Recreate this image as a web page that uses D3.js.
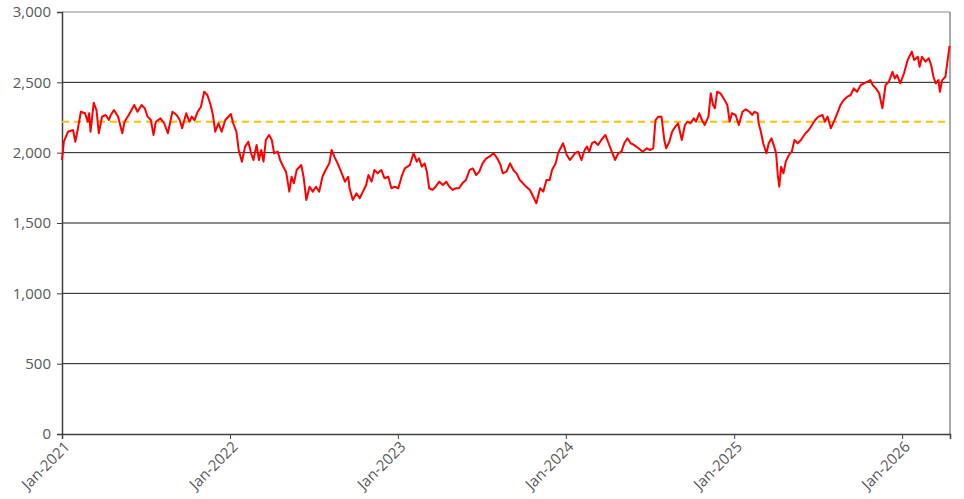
<!DOCTYPE html>
<html lang="en">
<head>
    <meta charset="UTF-8">
    <title>Index line chart</title>
    <script src="https://d3js.org/d3.v7.min.js"></script>
    <style>
        body { margin: 0; background: #fff; }
        text { font-family: "Open Sans", sans-serif; fill: #595959; }
    </style>
</head>
<body>
    <svg width="964" height="499"></svg>
    <script>
        const dates = [
            "2021-01-01","2021-01-05","2021-01-14","2021-01-25","2021-01-30","2021-02-04","2021-02-11","2021-02-20","2021-02-26","2021-03-01",
            "2021-03-04","2021-03-11","2021-03-17","2021-03-22","2021-03-29","2021-04-06","2021-04-13","2021-04-17","2021-04-24","2021-05-03",
            "2021-05-12","2021-05-17","2021-05-26","2021-06-07","2021-06-14","2021-06-23","2021-06-30","2021-07-06","2021-07-13","2021-07-19",
            "2021-07-24","2021-08-03","2021-08-11","2021-08-19","2021-08-29","2021-09-07","2021-09-14","2021-09-19","2021-09-28","2021-10-05",
            "2021-10-10","2021-10-16","2021-10-23","2021-10-30","2021-11-06","2021-11-13","2021-11-20","2021-11-25","2021-11-30","2021-12-07",
            "2021-12-14","2021-12-22","2022-01-03","2022-01-08","2022-01-15","2022-01-20","2022-01-27","2022-02-03","2022-02-10","2022-02-16",
            "2022-02-21","2022-02-28","2022-03-05","2022-03-10","2022-03-15","2022-03-20","2022-03-27","2022-04-02","2022-04-07","2022-04-15",
            "2022-04-20","2022-04-27","2022-05-03","2022-05-10","2022-05-15","2022-05-20","2022-05-26","2022-06-05","2022-06-10","2022-06-16",
            "2022-06-23","2022-06-30","2022-07-07","2022-07-14","2022-07-21","2022-07-28","2022-08-05","2022-08-10","2022-08-16","2022-08-23",
            "2022-09-01","2022-09-08","2022-09-15","2022-09-18","2022-09-25","2022-10-03","2022-10-10","2022-10-17","2022-10-24","2022-10-29",
            "2022-11-05","2022-11-11","2022-11-18","2022-11-26","2022-12-03","2022-12-11","2022-12-18","2022-12-25","2023-01-02","2023-01-09",
            "2023-01-16","2023-01-27","2023-02-04","2023-02-11","2023-02-16","2023-02-22","2023-02-28","2023-03-05","2023-03-10","2023-03-17",
            "2023-03-24","2023-04-01","2023-04-09","2023-04-16","2023-04-23","2023-04-30","2023-05-07","2023-05-14","2023-05-21","2023-05-29",
            "2023-06-06","2023-06-13","2023-06-20","2023-06-27","2023-07-04","2023-07-12","2023-07-19","2023-07-28","2023-08-05","2023-08-12",
            "2023-08-17","2023-08-25","2023-09-02","2023-09-09","2023-09-16","2023-09-23","2023-09-30","2023-10-07","2023-10-15","2023-10-22",
            "2023-10-29","2023-11-06","2023-11-13","2023-11-20","2023-11-27","2023-12-02","2023-12-10","2023-12-15","2023-12-26","2024-01-03",
            "2024-01-10","2024-01-21","2024-01-28","2024-02-04","2024-02-11","2024-02-16","2024-02-21","2024-02-27","2024-03-04","2024-03-11",
            "2024-03-18","2024-03-27","2024-04-03","2024-04-10","2024-04-17","2024-04-24","2024-05-01","2024-05-07","2024-05-14","2024-05-21",
            "2024-05-28","2024-06-07","2024-06-16","2024-06-25","2024-07-02","2024-07-09","2024-07-14","2024-07-20","2024-07-27","2024-08-02",
            "2024-08-06","2024-08-13","2024-08-19","2024-08-26","2024-09-01","2024-09-09","2024-09-16","2024-09-21","2024-09-28","2024-10-05",
            "2024-10-10","2024-10-17","2024-10-23","2024-10-29","2024-11-06","2024-11-11","2024-11-16","2024-11-20","2024-11-25","2024-12-02",
            "2024-12-09","2024-12-17","2024-12-22","2024-12-27","2025-01-04","2025-01-11","2025-01-19","2025-01-26","2025-02-03","2025-02-09",
            "2025-02-14","2025-02-21","2025-02-23","2025-02-28","2025-03-05","2025-03-12","2025-03-17","2025-03-23","2025-03-29","2025-04-02",
            "2025-04-06","2025-04-09","2025-04-13","2025-04-18","2025-04-23","2025-04-30","2025-05-06","2025-05-12","2025-05-19","2025-05-26",
            "2025-06-05","2025-06-12","2025-06-19","2025-06-26","2025-07-03","2025-07-12","2025-07-17","2025-07-23","2025-07-30","2025-08-07",
            "2025-08-13","2025-08-20","2025-08-27","2025-09-04","2025-09-11","2025-09-18","2025-09-25","2025-10-03","2025-10-10","2025-10-17",
            "2025-10-24","2025-10-29","2025-11-05","2025-11-12","2025-11-19","2025-11-26","2025-12-03","2025-12-11","2025-12-16","2025-12-21",
            "2025-12-28","2026-01-05","2026-01-13","2026-01-22","2026-01-27","2026-02-04","2026-02-08","2026-02-13","2026-02-21","2026-02-28",
            "2026-03-05","2026-03-10","2026-03-15","2026-03-21","2026-03-24","2026-03-29","2026-04-05","2026-04-09","2026-04-14"
        ];
        const values = [
            1948,2078,2149,2161,2078,2161,2291,2280,2220,2280,
            2149,2355,2303,2138,2256,2268,2232,2268,2303,2256,
            2138,2220,2268,2339,2291,2339,2315,2256,2232,2126,
            2220,2244,2209,2138,2291,2268,2232,2173,2280,2220,
            2256,2232,2291,2327,2433,2410,2339,2268,2149,2209,
            2149,2232,2275,2209,2149,2019,1936,2043,2078,1996,
            1948,2055,1948,2019,1936,2090,2126,2090,1996,2007,
            1948,1900,1865,1723,1829,1782,1877,1912,1829,1664,
            1758,1723,1758,1723,1829,1877,1924,2019,1972,1924,
            1853,1794,1829,1747,1664,1711,1676,1723,1770,1841,
            1794,1877,1853,1877,1818,1829,1747,1758,1747,1829,
            1888,1912,1996,1936,1960,1900,1924,1865,1747,1735,
            1758,1794,1770,1794,1758,1735,1747,1747,1782,1806,
            1877,1888,1841,1865,1924,1960,1972,1996,1960,1912,
            1853,1865,1924,1877,1853,1806,1782,1758,1735,1688,
            1640,1747,1723,1806,1806,1877,1924,1996,2067,1984,
            1948,1996,2007,1948,2019,2043,2007,2067,2078,2055,
            2090,2126,2067,2007,1948,1996,2007,2067,2102,2067,
            2055,2031,2007,2031,2019,2031,2232,2256,2256,2090,
            2031,2078,2149,2185,2209,2090,2197,2220,2209,2244,
            2220,2280,2232,2197,2256,2422,2339,2315,2433,2422,
            2386,2339,2220,2280,2268,2197,2291,2308,2291,2268,
            2291,2280,2209,2149,2067,1996,2067,2102,2043,1996,
            1829,1758,1900,1853,1936,1984,2007,2090,2067,2090,
            2138,2161,2197,2232,2256,2268,2220,2256,2173,2232,
            2280,2339,2374,2398,2410,2457,2433,2481,2493,2504,
            2516,2481,2457,2422,2315,2481,2504,2575,2528,2552,
            2493,2564,2659,2718,2659,2682,2611,2682,2647,2671,
            2623,2540,2493,2516,2433,2516,2540,2635,2760
        ];
        const refLevel = 2220;
        const yTicks = [0, 500, 1000, 1500, 2000, 2500, 3000];
        const xTickDates = ["2021-01-01","2022-01-01","2023-01-01","2024-01-01","2025-01-01","2026-01-01"];
        const xStart = "2021-01-01", xEnd = "2026-04-15";

        const parse = d3.timeParse("%Y-%m-%d");
        const series = dates.map((d, i) => ({date: parse(d), value: values[i]}));

        const svg = d3.select("svg");
        const margin = {top: 12, right: 14, bottom: 65, left: 62};
        const width = +svg.attr("width") - margin.left - margin.right;
        const height = +svg.attr("height") - margin.top - margin.bottom;
        const g = svg.append("g").attr("transform", `translate(${margin.left},${margin.top})`);

        const x = d3.scaleTime()
            .domain([parse(xStart), parse(xEnd)])
            .range([0, width]);
        const y = d3.scaleLinear()
            .domain([0, 3000])
            .range([height, 0]);

        // horizontal gridlines
        g.selectAll(".grid")
            .data(yTicks.filter(v => v > 0 && v < 3000))
            .enter().append("line")
            .attr("x1", 0).attr("x2", width)
            .attr("y1", d => y(d)).attr("y2", d => y(d))
            .attr("stroke", "#1a1a1a")
            .attr("stroke-width", 1);

        // plot frame top / right
        g.append("line")
            .attr("x1", 0).attr("x2", width).attr("y1", y(3000)).attr("y2", y(3000))
            .attr("stroke", "#8c8c8c").attr("stroke-width", 1.2);
        g.append("line")
            .attr("x1", width).attr("x2", width).attr("y1", 0).attr("y2", height)
            .attr("stroke", "#8c8c8c").attr("stroke-width", 1.5);

        // y axis
        const yAxis = g.append("g")
            .call(d3.axisLeft(y).tickValues(yTicks).tickSize(5).tickPadding(6).tickFormat(d3.format(",")));
        yAxis.select(".domain").attr("stroke", "#404040").attr("stroke-width", 1.5);
        yAxis.selectAll(".tick line").attr("stroke", "#404040");
        yAxis.selectAll("text").style("font-size", "15px").attr("fill", "#595959");

        // x axis
        const xAxis = g.append("g")
            .attr("transform", `translate(0,${height})`)
            .call(d3.axisBottom(x).tickValues(xTickDates.map(parse)).tickSize(5).tickFormat(d3.timeFormat("%b-%Y")));
        xAxis.select(".domain").attr("stroke", "#404040").attr("stroke-width", 1.5);
        xAxis.selectAll(".tick line").attr("stroke", "#404040");
        xAxis.selectAll("text")
            .style("font-size", "15px")
            .attr("fill", "#595959")
            .attr("text-anchor", "end")
            .attr("dx", "-0.25em")
            .attr("dy", "0.5em")
            .attr("transform", "rotate(-45)");

        // reference level
        g.append("line")
            .attr("x1", 0).attr("x2", width)
            .attr("y1", y(refLevel)).attr("y2", y(refLevel))
            .attr("stroke", "#ffc000")
            .attr("stroke-width", 2)
            .attr("stroke-dasharray", "7,5");

        // index line
        const line = d3.line()
            .x(d => x(d.date))
            .y(d => y(d.value));
        g.append("path")
            .datum(series)
            .attr("fill", "none")
            .attr("stroke", "#ff0000")
            .attr("stroke-width", 2)
            .attr("stroke-linejoin", "round")
            .attr("d", line);
    </script>
</body>
</html>
